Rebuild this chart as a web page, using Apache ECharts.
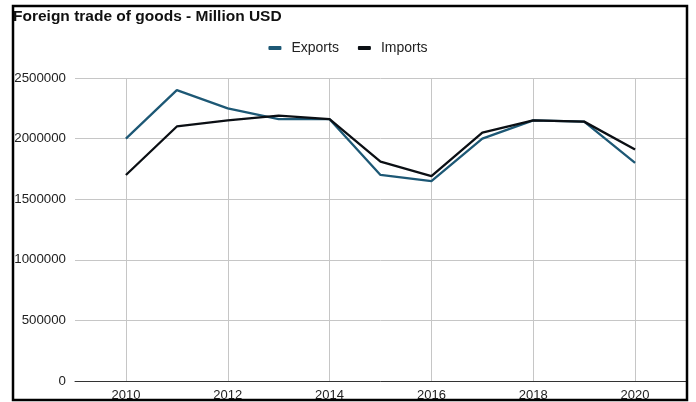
<!DOCTYPE html>
<html>
<head>
<meta charset="utf-8">
<script src="https://cdn.jsdelivr.net/npm/echarts@6/dist/echarts.min.js"></script>
<style>
  html, body { margin: 0; padding: 0; background: #fff; }
  #chart { width: 696px; height: 402px; }
</style>
</head>
<body>
<div id="chart"></div>
<script>
// Foreign trade of goods, million USD, 2010-2020
const years = [2010, 2011, 2012, 2013, 2014, 2015, 2016, 2017, 2018, 2019, 2020];
const exportsValues = [2000000, 2400000, 2250000, 2160000, 2160000, 1700000, 1650000, 2000000, 2150000, 2140000, 1800000];
const importsValues = [1700000, 2100000, 2150000, 2190000, 2160000, 1810000, 1690000, 2050000, 2150000, 2140000, 1910000];
const yTicks = [0, 500000, 1000000, 1500000, 2000000, 2500000];

const FONT = '"Liberation Sans", Arial, sans-serif';
const pairs = vals => years.map((y, i) => [y, vals[i]]);

const chart = echarts.init(document.getElementById('chart'), null, { renderer: 'canvas' });
chart.setOption({
  animation: false,
  backgroundColor: '#fff',
  title: {
    text: 'Foreign trade of goods - Million USD',
    left: 8,
    top: 4,
    textStyle: { fontFamily: FONT, fontSize: 15.5, fontWeight: 'bold', color: '#111' }
  },
  legend: {
    top: 36,
    left: 'center',
    icon: 'roundRect',
    itemWidth: 13,
    itemHeight: 4,
    itemGap: 19,
    textStyle: { fontFamily: FONT, fontSize: 14, color: '#222', padding: [0, 0, 0, 5] },
    data: ['Exports', 'Imports']
  },
  grid: { left: 75, right: 10, top: 78, bottom: 20, containLabel: false },
  xAxis: {
    type: 'value',
    min: years[0] - 1,
    max: years[years.length - 1] + 1,
    interval: 1,
    axisLine: { lineStyle: { color: '#333', width: 1 } },
    axisTick: { show: false },
    axisLabel: {
      fontFamily: FONT, fontSize: 13, color: '#222', margin: 8,
      formatter: v => (v % 2 === 0 ? String(v) : '')
    },
    splitLine: { show: true, lineStyle: { color: ['rgba(0,0,0,0)', '#c6c6c6'], width: 1 } }
  },
  yAxis: {
    type: 'value',
    min: yTicks[0],
    max: yTicks[yTicks.length - 1],
    interval: yTicks[1] - yTicks[0],
    axisLine: { show: false },
    axisTick: { show: false },
    axisLabel: {
      fontFamily: FONT, fontSize: 13.3, color: '#222', margin: 9,
      formatter: v => String(v)
    },
    splitLine: { lineStyle: { color: '#c6c6c6', width: 1 } }
  },
  series: [
    {
      name: 'Exports',
      type: 'line',
      data: pairs(exportsValues),
      showSymbol: false,
      color: '#1d5875',
      lineStyle: { width: 2.3, color: '#1d5875' },
      z: 2
    },
    {
      name: 'Imports',
      type: 'line',
      data: pairs(importsValues),
      showSymbol: false,
      color: '#0b0f14',
      lineStyle: { width: 2.3, color: '#0b0f14' },
      z: 3
    }
  ],
  graphic: [
    {
      type: 'rect',
      silent: true,
      shape: { x: 13, y: 6, width: 674, height: 394 },
      style: { fill: 'none', stroke: '#000', lineWidth: 2.5 },
      z: 100
    }
  ]
});
</script>
</body>
</html>
